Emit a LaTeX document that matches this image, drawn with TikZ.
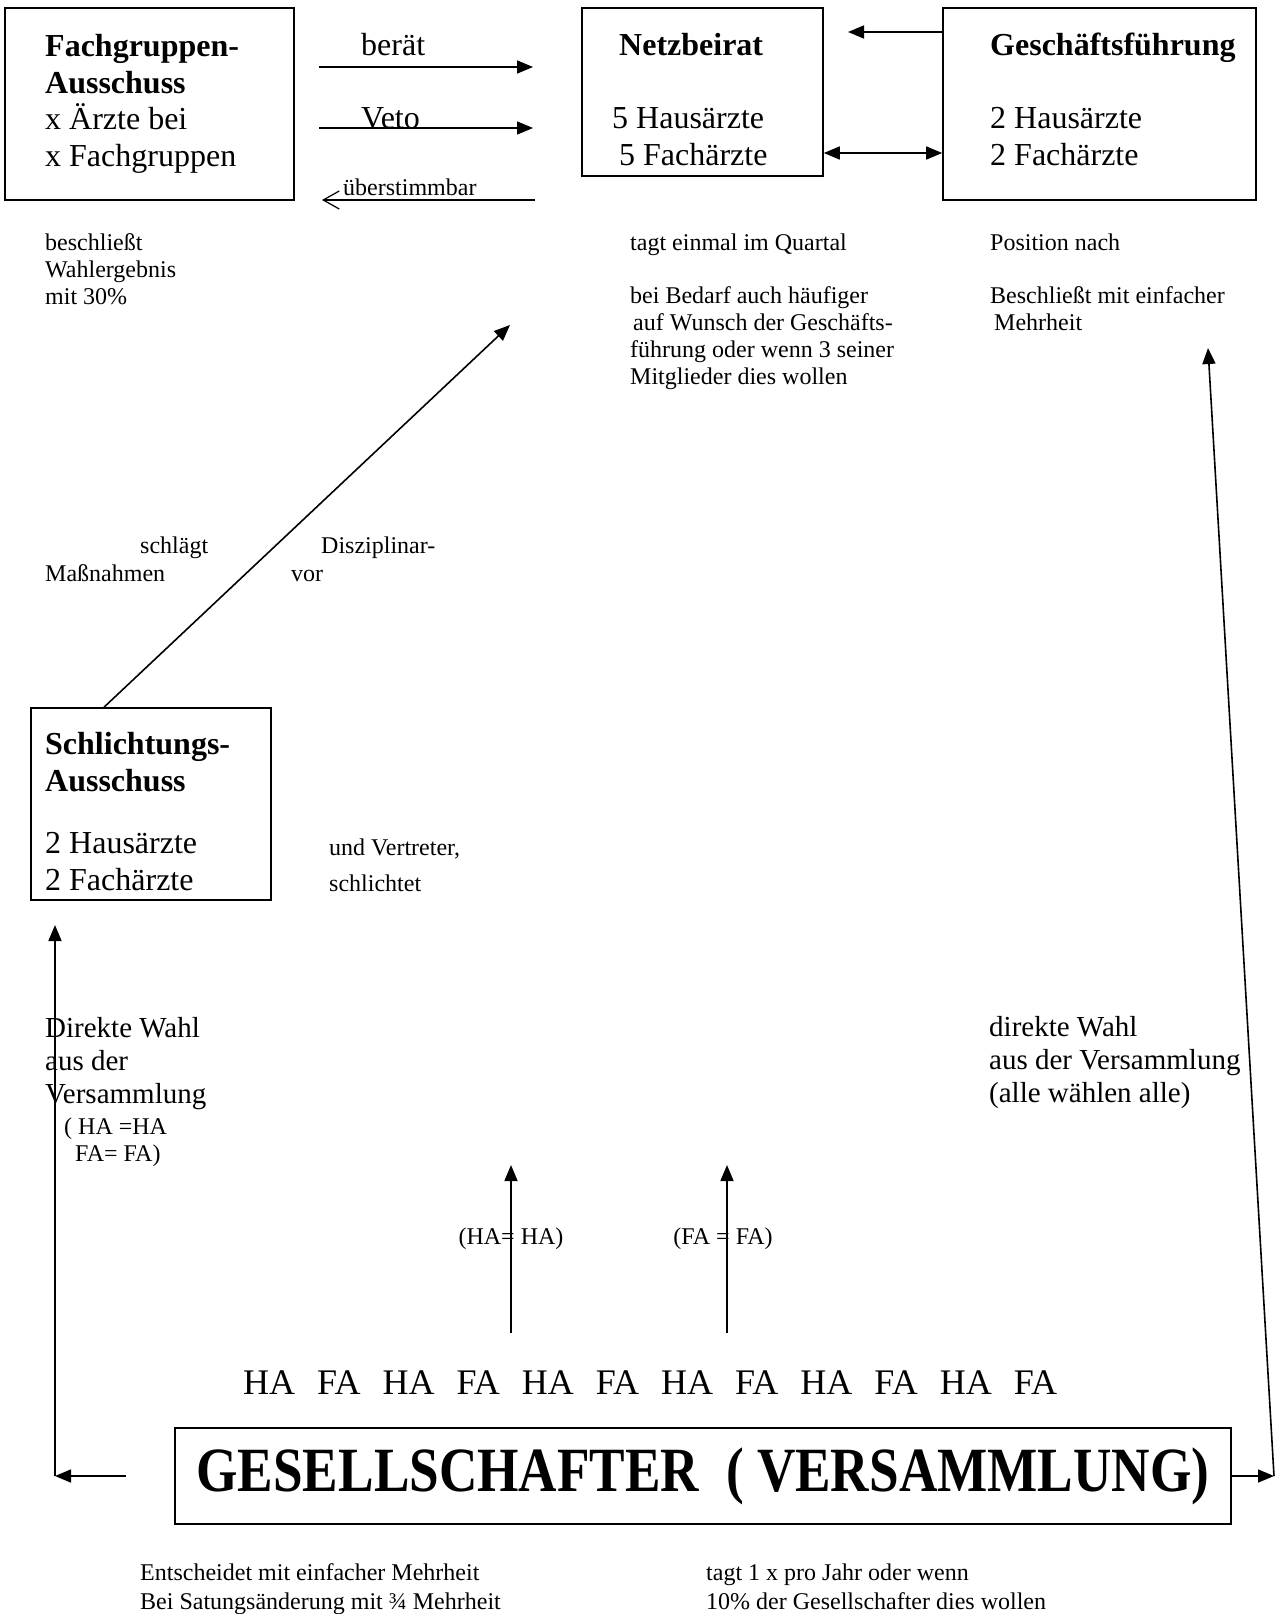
\documentclass[tikz,border=0pt]{standalone}
\usepackage{fontspec}
\setmainfont{Liberation Serif}
\usepackage{graphicx}
\usetikzlibrary{arrows.meta}

\tikzset{
    kasten/.style = {draw, line width=1.6pt, inner sep=0pt},
    txt/.style = {inner sep=0pt, anchor=base west, align=left},
    klein/.style = {txt, font=\fontsize{24}{27}\selectfont},
    mittel/.style = {txt, font=\fontsize{29}{33}\selectfont},
    gross/.style = {txt, font=\fontsize{32}{36.5}\selectfont},
    pfeil/.style = {line width=1.6pt, -{Triangle[length=16pt,width=13pt]}},
    offen/.style = {line width=1.2pt, -{Straight Barb[length=16pt,width=18pt]}}
}

\begin{document}
\begin{tikzpicture}[x=1pt, y=-1pt]
            \useasboundingbox (0,0) rectangle (1276,1614);

            % Kaesten
            \node[kasten, minimum width=289pt, minimum height=192pt] (fach) at (149.5,104) {};
            \node[kasten, minimum width=241pt, minimum height=168pt] (netz) at (702.5,92) {};
            \node[kasten, minimum width=313pt, minimum height=192pt] (gf) at (1099.5,104) {};
            \node[kasten, minimum width=240pt, minimum height=192pt] (schl) at (151,804) {};
            \node[kasten, minimum width=1056pt, minimum height=96pt,
                  font=\bfseries\fontsize{63}{70}\selectfont] (ges) at (703,1476)
                  {\scalebox{0.845}[1]{GESELLSCHAFTER\ \ ( VERSAMMLUNG)}};

            % Texte in den Kaesten (Position = Grundlinie der letzten Zeile)
            \node[gross] (fachtxt) at (45,166) {\textbf{Fachgruppen-}\\\textbf{Ausschuss}\\x Ärzte bei\\x Fachgruppen};
            \node[gross] (netztitel) at (619,55) {\textbf{Netzbeirat}};
            \node[gross] (netztxt) at (612,165) {5 Hausärzte\\\hspace*{7pt}5 Fachärzte};
            \node[gross] (gftitel) at (990,55) {\textbf{Geschäftsführung}};
            \node[gross] (gftxt) at (990,165) {2 Hausärzte\\2 Fachärzte};
            \node[gross] (schltitel) at (45,791) {\textbf{Schlichtungs-}\\\textbf{Ausschuss}};
            \node[gross] (schltxt) at (45,890) {2 Hausärzte\\2 Fachärzte};

            % Pfeile oben
            \coordinate (beratA) at (319,67);
            \coordinate (beratB) at (533,67);
            \coordinate (vetoA) at (319,128);
            \coordinate (vetoB) at (533,128);
            \coordinate (uebA) at (535,200);
            \coordinate (uebB) at (322,200);
            \coordinate (nbSpitze) at (848,32);
            \coordinate (doppel) at (880,153);
            \draw[pfeil] (beratA) -- (beratB);
            \draw[pfeil] (vetoA) -- (vetoB);
            \draw[offen] (uebA) -- (uebB);
            \draw[pfeil] (gf.west |- nbSpitze) -- (nbSpitze);
            \draw[pfeil, {Triangle[length=16pt,width=13pt]}-{Triangle[length=16pt,width=13pt]}] (netz.east |- doppel) -- (gf.west |- doppel);
            \node[gross] (beraet) at (361,55) {berät};
            \node[gross] (veto) at (361,128) {Veto};
            \node[klein] (ueber) at (343,195) {überstimmbar};

            % Notizen
            \node[klein] (beschl) at (45,304) {beschließt\\Wahlergebnis\\mit 30\%};
            \node[klein] (tagt) at (630,250) {tagt einmal im Quartal};
            \node[klein] (bedarf) at (630,384) {bei Bedarf auch häufiger\\\hspace*{3pt}auf Wunsch der Geschäfts-\\führung oder wenn 3 seiner\\Mitglieder dies wollen};
            \node[klein] (position) at (990,250) {Position nach};
            \node[klein] (beschlgf) at (990,330) {Beschließt mit einfacher\\\hspace*{4pt}Mehrheit};
            \node[klein] (schlaegt) at (140,553) {schlägt};
            \node[klein] (diszi) at (321,553) {Disziplinar-};
            \node[klein] (massn) at (45,581) {Maßnahmen};
            \node[klein] (vor) at (291,581) {vor};
            \node[klein, font=\fontsize{24}{36}\selectfont] (vertreter) at (329,891) {und Vertreter,\\schlichtet};
            \node[mittel] (wahlL) at (45,1103) {Direkte Wahl\\aus der\\Versammlung};
            \node[klein] (hafaL) at (64,1161) {( HA =HA\\\hspace*{11pt}FA= FA)};
            \node[mittel] (wahlR) at (989,1102) {direkte Wahl\\aus der Versammlung\\(alle wählen alle)};

            % Diagonale zum Netzbeirat
            \coordinate (beiratSpitze) at (510,325);
            \draw[pfeil] ([xshift=-47pt]schl.north) -- (beiratSpitze);

            % Wahlpfeile
            \coordinate (eckL) at (55,1476);
            \coordinate (schlSpitze) at (55,925);
            \coordinate (eckR) at (1274,1476);
            \coordinate (gfSpitze) at (1208,348);
            \draw[pfeil] ([xshift=-48pt]ges.west) -- (eckL);
            \draw[pfeil] (eckL) -- (schlSpitze);
            \draw[pfeil] (ges.east) -- (eckR);
            \draw[pfeil] (eckR) -- (gfSpitze);

            \coordinate (haA) at (511,1333);
            \coordinate (haB) at (511,1165);
            \coordinate (faA) at (727,1333);
            \coordinate (faB) at (727,1165);
            \draw[pfeil] (haA) -- (haB);
            \draw[pfeil] (faA) -- (faB);
            \node[klein, anchor=base] (halbl) at (511,1244) {(HA= HA)};
            \node[klein, anchor=base] (falbl) at (723,1244) {(FA = FA)};

            \node[txt, font=\fontsize{36}{40}\selectfont] (reihe) at (243,1394)
                {HA\hspace{22pt}FA\hspace{22pt}HA\hspace{22pt}FA\hspace{22pt}HA\hspace{22pt}FA\hspace{22pt}HA\hspace{22pt}FA\hspace{22pt}HA\hspace{22pt}FA\hspace{22pt}HA\hspace{22pt}FA};

            \node[klein, font=\fontsize{24}{29}\selectfont] (entsch) at (140,1609) {Entscheidet mit einfacher Mehrheit\\Bei Satungsänderung mit ¾ Mehrheit};
            \node[klein, font=\fontsize{24}{29}\selectfont] (jahr) at (706,1609) {tagt 1 x pro Jahr oder wenn\\10\% der Gesellschafter dies wollen};
        \end{tikzpicture}
\end{document}
